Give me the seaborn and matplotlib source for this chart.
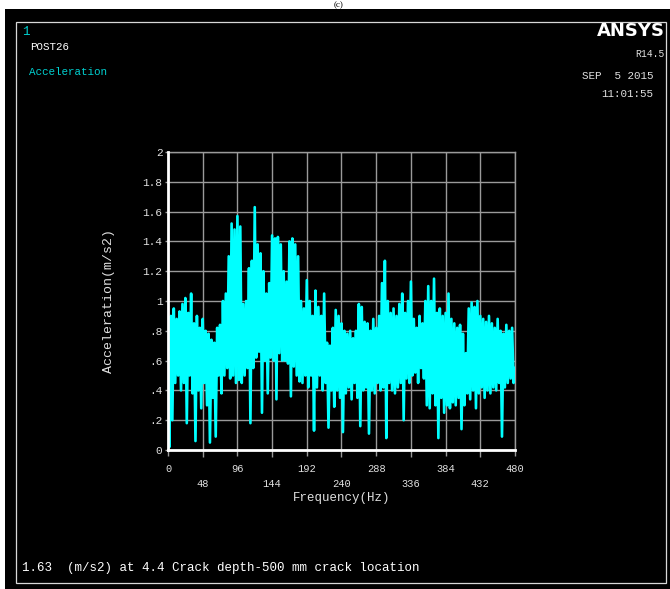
import matplotlib
matplotlib.use("Agg")
import matplotlib.pyplot as plt
import numpy as np
import seaborn as sns
from matplotlib.patches import Rectangle

# acceleration, one value every 2 Hz (0..480 Hz)
acc = [
    0.40, 0.02, 0.90, 0.20, 0.95, 0.45, 0.88, 0.50, 0.93, 0.40,
    0.98, 0.45, 1.02, 0.18, 0.92, 0.50, 1.05, 0.38, 0.85, 0.06,
    0.90, 0.40, 0.82, 0.28, 0.88, 0.45, 0.80, 0.30, 0.78, 0.05,
    0.74, 0.35, 0.72, 0.09, 0.82, 0.50, 0.84, 0.38, 1.00, 0.50,
    1.05, 0.55, 1.30, 0.48, 1.52, 0.50, 1.48, 0.45, 1.57, 0.47,
    1.50, 0.45, 0.98, 0.50, 1.00, 0.55, 1.22, 0.18, 1.27, 0.55,
    1.63, 0.62, 1.38, 0.66, 1.32, 0.25, 1.20, 0.60, 1.05, 0.38,
    1.12, 0.62, 1.44, 0.60, 1.42, 0.34, 1.43, 0.65, 1.38, 0.60,
    1.20, 0.60, 1.13, 0.58, 1.40, 0.36, 1.42, 0.56, 1.38, 0.50,
    1.30, 0.46, 1.00, 0.45, 0.95, 0.50, 1.14, 0.42, 1.00, 0.50,
    0.90, 0.13, 1.07, 0.42, 0.96, 0.50, 0.90, 0.40, 1.05, 0.45,
    0.72, 0.15, 0.70, 0.40, 0.82, 0.29, 0.94, 0.40, 0.90, 0.35,
    0.85, 0.12, 0.80, 0.38, 0.78, 0.42, 0.80, 0.34, 0.75, 0.45,
    0.80, 0.35, 0.98, 0.16, 0.96, 0.40, 0.86, 0.42, 0.85, 0.11,
    0.80, 0.40, 0.88, 0.38, 0.82, 0.45, 0.90, 0.40, 1.12, 0.42,
    1.27, 0.08, 1.00, 0.45, 0.92, 0.40, 0.95, 0.38, 0.90, 0.42,
    0.98, 0.45, 1.05, 0.20, 0.92, 0.48, 1.00, 0.45, 1.13, 0.50,
    0.88, 0.52, 0.82, 0.45, 0.90, 0.55, 0.85, 0.48, 1.00, 0.30,
    1.10, 0.28, 1.00, 0.38, 1.15, 0.30, 0.92, 0.08, 0.95, 0.35,
    0.90, 0.25, 0.92, 0.30, 1.05, 0.28, 0.88, 0.32, 0.85, 0.30,
    0.82, 0.35, 0.84, 0.14, 0.78, 0.30, 0.65, 0.38, 0.95, 0.34,
    0.99, 0.40, 0.96, 0.28, 1.00, 0.38, 0.90, 0.42, 0.88, 0.35,
    0.86, 0.40, 0.90, 0.38, 0.85, 0.42, 0.82, 0.40, 0.88, 0.45,
    0.80, 0.09, 0.78, 0.42, 0.84, 0.45, 0.80, 0.48, 0.82, 0.45,
    0.55,
]
freq = np.arange(0, 481, 2)

x_major = [0, 96, 192, 288, 384, 480]
x_minor = [48, 144, 240, 336, 432]
y_ticks = [0, 0.2, 0.4, 0.6, 0.8, 1.0, 1.2, 1.4, 1.6, 1.8, 2.0]
y_labels = ["0", ".2", ".4", ".6", ".8", "1", "1.2", "1.4", "1.6", "1.8", "2"]

mono = "Liberation Mono"
txt = "#e0e0e0"
grid = "#9a9a9a"

W, H = 670, 589
fig = plt.figure(figsize=(W / 100, H / 100), dpi=100, facecolor="white")

# black screen area + thin white frame
fig.patches.append(Rectangle((5 / W, 0), 665 / W, 580 / H, transform=fig.transFigure,
                             facecolor="black", edgecolor="none", zorder=-10))
fig.patches.append(Rectangle((16 / W, 6 / H), 650 / W, 561 / H, transform=fig.transFigure,
                             facecolor="none", edgecolor="#d8d8d8", linewidth=0.9, zorder=-9))
fig.text(339 / W, (H - 5) / H, "(c)", ha="center", va="center", fontsize=6.5,
         family="Liberation Serif", color="black", zorder=-11)

ax = fig.add_axes([168 / W, (H - 450) / H, 347 / W, 298 / H])
ax.set_facecolor("black")

sns.lineplot(x=freq, y=acc, ax=ax, color="#00ffff", linewidth=1.9, zorder=3)

ax.set_xlim(0, 480)
ax.set_ylim(0, 2)
ax.set_xticks(x_major)
ax.set_xticks(x_minor, minor=True)
ax.set_xticklabels([str(v) for v in x_major], family=mono, fontsize=7.5, color=txt)
ax.set_xticklabels([str(v) for v in x_minor], minor=True, family=mono, fontsize=7.5, color=txt)
ax.set_yticks(y_ticks)
ax.set_yticklabels(y_labels, family=mono, fontsize=8, color=txt)
ax.tick_params(axis="x", which="major", length=4, width=1, color=grid, pad=6)
ax.tick_params(axis="x", which="minor", length=5, width=1, color=grid, pad=16)
ax.tick_params(axis="y", length=2, width=1, color=grid, pad=2)
ax.grid(True, which="both", color=grid, linewidth=1, zorder=1)
ax.set_axisbelow(True)

for s in ["top", "right"]:
    ax.spines[s].set_color(grid)
    ax.spines[s].set_linewidth(1)
for s in ["left", "bottom"]:
    ax.spines[s].set_color("white")
    ax.spines[s].set_linewidth(2)
    ax.spines[s].set_zorder(4)

ax.set_xlabel("Frequency(Hz)", family=mono, fontsize=9, color=txt, labelpad=2)
ax.set_ylabel("Acceleration(m/s2)", family=mono, fontsize=9.5, color=txt, labelpad=20)

# ANSYS screen annotations
fig.text(22 / W, 1 - 32 / H, "1", color="#00d0d0", fontsize=9, family=mono, va="center")
fig.text(30 / W, 1 - 47 / H, "POST26", color="white", fontsize=7.8, family=mono, va="center")
fig.text(29 / W, 1 - 72 / H, "Acceleration", color="#00d0d0", fontsize=7.8, family=mono, va="center")
fig.text(665 / W, 1 - 31 / H, "ANSYS", color="white", fontsize=13, fontweight="bold",
         family="DejaVu Sans", ha="right", va="center")
fig.text(665 / W, 1 - 54 / H, "R14.5", color=txt, fontsize=7, family=mono, ha="right", va="center")
fig.text(653 / W, 1 - 76 / H, "SEP  5 2015", color=txt, fontsize=7.8, family=mono, ha="right", va="center")
fig.text(653 / W, 1 - 94 / H, "11:01:55", color=txt, fontsize=7.8, family=mono, ha="right", va="center")
fig.text(22 / W, 1 - 568 / H, "1.63  (m/s2) at 4.4 Crack depth-500 mm crack location",
         color="white", fontsize=9, family=mono, va="center")

fig.savefig("out.png", dpi=100, facecolor="white")
